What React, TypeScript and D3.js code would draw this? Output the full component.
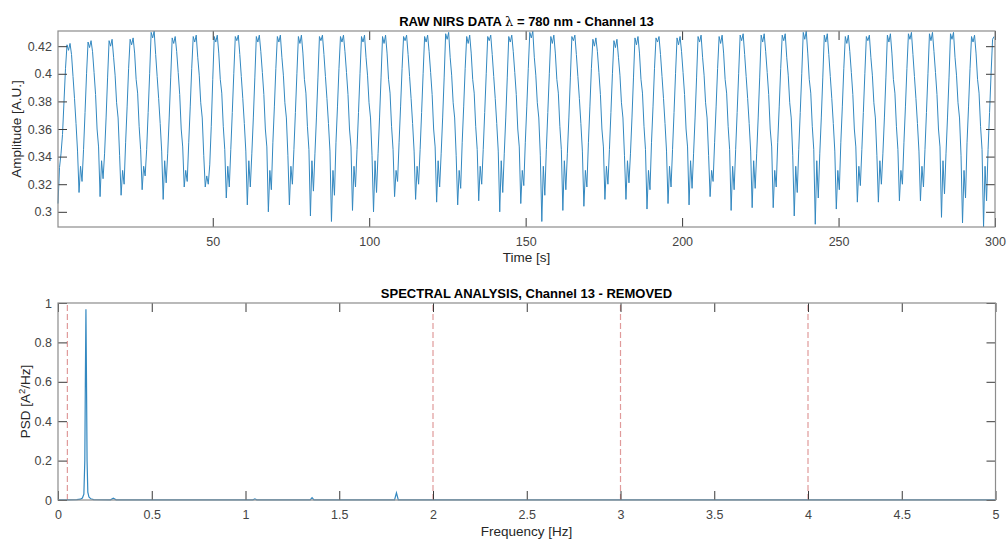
import { useEffect, useRef } from "react";
import * as d3 from "d3";

// Raw NIRS signal (780 nm, channel 13), amplitude in 1e-3 A.U.
// one sample every dt seconds, starting at t0
const t0 = 0.54;
const dt = 0.4802;
const rawHead = [306, 332, 342, 356, 380, 404];
// one row per oscillation: double top, descent, noisy trough, rise
const rawCycles = [
  [421, 417, 422, 414, 398, 382, 364, 344, 314, 333, 322, 345, 372, 400],
  [423, 419, 424, 416, 401, 385, 360, 347, 311, 337, 324, 342, 368, 397],
  [424, 420, 425, 412, 399, 379, 368, 341, 312, 330, 320, 350, 376, 404],
  [425, 421, 426, 415, 396, 386, 362, 345, 316, 333, 326, 345, 372, 400],
  [430, 426, 431, 414, 398, 382, 364, 344, 309, 337, 321, 342, 368, 397],
  [426, 422, 427, 416, 401, 385, 360, 347, 318, 330, 322, 350, 376, 404],
  [427, 423, 428, 412, 399, 379, 368, 341, 318, 326, 320, 334, 362, 396],
  [427, 423, 428, 415, 396, 386, 362, 345, 310, 333, 318, 345, 372, 400],
  [427, 424, 428, 414, 398, 382, 364, 344, 305, 337, 318, 342, 368, 397],
  [427, 423, 428, 416, 401, 385, 360, 347, 300, 330, 316, 350, 376, 404],
  [427, 423, 428, 412, 399, 379, 368, 341, 305, 333, 320, 345, 372, 400],
  [427, 422, 428, 415, 396, 386, 362, 345, 297, 337, 315, 342, 368, 397],
  [427, 424, 428, 414, 398, 382, 364, 344, 293, 330, 312, 350, 376, 404],
  [427, 423, 428, 416, 401, 385, 360, 347, 301, 333, 318, 345, 372, 400],
  [427, 423, 428, 412, 399, 379, 368, 341, 300, 337, 314, 342, 368, 397],
  [427, 422, 428, 415, 396, 386, 362, 345, 311, 330, 322, 350, 376, 404],
  [427, 424, 428, 414, 398, 382, 364, 344, 309, 333, 320, 345, 372, 400],
  [427, 423, 428, 416, 401, 385, 360, 347, 307, 337, 318, 342, 368, 397],
  [429, 425, 430, 412, 399, 379, 368, 341, 305, 330, 317, 350, 376, 404],
  [427, 422, 428, 415, 396, 386, 362, 345, 308, 333, 320, 345, 372, 400],
  [427, 424, 428, 414, 398, 382, 364, 344, 300, 337, 314, 342, 368, 397],
  [427, 423, 428, 416, 401, 385, 360, 347, 306, 330, 319, 350, 376, 404],
  [430, 426, 431, 412, 399, 379, 368, 341, 293, 333, 312, 345, 372, 400],
  [427, 422, 428, 415, 396, 386, 362, 345, 301, 337, 316, 342, 368, 397],
  [427, 424, 428, 414, 398, 382, 364, 344, 304, 330, 318, 350, 376, 404],
  [425, 420, 426, 416, 401, 385, 360, 347, 309, 333, 320, 345, 372, 400],
  [424, 419, 425, 412, 399, 379, 368, 341, 309, 337, 321, 342, 368, 397],
  [426, 421, 427, 415, 396, 386, 362, 345, 302, 330, 316, 350, 376, 404],
  [426, 423, 427, 414, 398, 382, 364, 344, 306, 333, 318, 345, 372, 400],
  [426, 421, 427, 416, 401, 385, 360, 347, 305, 337, 317, 342, 368, 397],
  [427, 423, 428, 412, 399, 379, 368, 341, 311, 330, 322, 350, 376, 404],
  [427, 422, 428, 415, 396, 386, 362, 345, 301, 333, 316, 345, 372, 400],
  [428, 424, 429, 414, 398, 382, 364, 344, 303, 337, 317, 342, 368, 397],
  [428, 423, 429, 416, 401, 385, 360, 347, 303, 330, 318, 350, 376, 404],
  [428, 424, 429, 412, 399, 379, 368, 341, 297, 333, 314, 345, 372, 400],
  [430, 425, 431, 415, 396, 386, 362, 345, 291, 337, 310, 342, 368, 397],
  [428, 423, 429, 414, 398, 382, 364, 344, 302, 330, 316, 350, 376, 404],
  [427, 422, 428, 416, 401, 385, 360, 347, 307, 333, 319, 345, 372, 400],
  [427, 424, 428, 412, 399, 379, 368, 341, 307, 337, 320, 342, 368, 397],
  [428, 423, 429, 415, 396, 386, 362, 345, 308, 330, 320, 350, 376, 404],
  [429, 425, 430, 414, 398, 382, 364, 344, 308, 333, 318, 345, 372, 400],
  [429, 424, 430, 416, 401, 385, 360, 347, 296, 337, 313, 342, 368, 397],
  [429, 425, 430, 412, 399, 379, 368, 341, 292, 330, 310, 350, 376, 404],
  [427, 423, 428, 415, 396, 386, 362, 345, 289, 333, 308, 345, 372, 400],
];
const rawTail = [425, 427];

const timeTicks = [50, 100, 150, 200, 250, 300];
const ampTicks = [0.3, 0.32, 0.34, 0.36, 0.38, 0.4, 0.42];

// Power spectral density
const psdFreq = [0, 0.05, 0.1, 0.12, 0.13, 0.138, 0.143, 0.146, 0.149, 0.152, 0.155, 0.159, 0.165, 0.175, 0.19, 0.28, 0.295, 0.31, 0.6, 1.04, 1.05, 1.06, 1.345, 1.355, 1.365, 1.795, 1.805, 1.815, 3, 5];
const psdValue = [0.001, 0.001, 0.002, 0.004, 0.01, 0.03, 0.2, 0.62, 0.968, 0.6, 0.2, 0.04, 0.015, 0.006, 0.002, 0.001, 0.009, 0.001, 0.001, 0.001, 0.006, 0.001, 0.001, 0.012, 0.001, 0.001, 0.036, 0.001, 0.001, 0.001];
const bandLimits = [0.05, 2, 3, 4];

const freqTicks = [0, 0.5, 1, 1.5, 2, 2.5, 3, 3.5, 4, 4.5, 5];
const psdTicks = [0, 0.2, 0.4, 0.6, 0.8, 1];

const font = "'Liberation Sans', Arial, Helvetica, sans-serif";

export default function App() {
  const ref = useRef<SVGSVGElement>(null);

  useEffect(() => {
    const width = 1007;
    const height = 540;

    const svg = d3.select(ref.current);
    svg.selectAll("*").remove();
    svg.attr("width", width).attr("height", height).attr("viewBox", [0, 0, width, height]);
    svg.append("rect").attr("width", width).attr("height", height).attr("fill", "white");

    const raw = [...rawHead, ...rawCycles.flat(), ...rawTail].map((v, i) => ({ t: t0 + i * dt, v: v / 1000 }));
    const psd = psdFreq.map((f, i) => ({ f, p: psdValue[i] }));

    function frame(x, y, xTicks, yTicks) {
      const [xa, xb] = x.range();
      const [ya, yb] = y.range();
      const g = svg.append("g");
      g.append("g").attr("transform", `translate(0,${ya})`)
        .call(d3.axisBottom(x).tickValues(xTicks).tickSize(-9).tickPadding(10).tickFormat(d => String(d)));
      g.append("g").attr("transform", `translate(0,${yb})`)
        .call(d3.axisTop(x).tickValues(xTicks).tickSize(-9).tickFormat(() => ""));
      g.append("g").attr("transform", `translate(${xa},0)`)
        .call(d3.axisLeft(y).tickValues(yTicks).tickSize(-9).tickPadding(6).tickFormat(d => String(d)));
      g.append("g").attr("transform", `translate(${xb},0)`)
        .call(d3.axisRight(y).tickValues(yTicks).tickSize(-9).tickFormat(() => ""));
      g.selectAll(".domain").remove();
      g.selectAll(".tick line").attr("stroke", "#3a3a3a");
      g.selectAll(".tick text")
        .attr("fill", "#444")
        .attr("font-size", 12.5)
        .attr("font-family", font);
      g.append("rect")
        .attr("x", xa).attr("y", yb)
        .attr("width", xb - xa).attr("height", ya - yb)
        .attr("fill", "none")
        .attr("stroke", "#8c8c8c")
        .attr("stroke-width", 1.2);
    }

    function label(text, x, y, opts: { bold?: boolean; rotate?: boolean; size?: number } = {}) {
      return svg.append("text")
        .attr("transform", `translate(${x},${y})${opts.rotate ? " rotate(-90)" : ""}`)
        .attr("text-anchor", "middle")
        .attr("font-family", font)
        .attr("font-size", opts.size ?? 13.5)
        .attr("font-weight", opts.bold ? "bold" : null)
        .attr("fill", opts.bold ? "#000" : "#262626")
        .text(text);
    }

    // ---- top panel: raw signal
    const x1 = d3.scaleLinear([t0, 300], [58, 995]);
    const y1 = d3.scaleLinear(d3.extent(raw, d => d.v) as [number, number], [227, 31]);

    svg.append("path")
      .attr("fill", "none")
      .attr("stroke", "#3388c0")
      .attr("stroke-width", 1)
      .attr("stroke-linejoin", "round")
      .attr("d", d3.line<{ t: number; v: number }>().x(d => x1(d.t)).y(d => y1(d.v))(raw));

    frame(x1, y1, timeTicks, ampTicks);

    const t1 = label("RAW NIRS DATA ", 526.5, 26, { bold: true, size: 13 });
    t1.append("tspan")
      .attr("font-family", "'DejaVu Serif', 'Liberation Serif', serif")
      .attr("font-weight", "normal")
      .text("\u03bb");
    t1.append("tspan").text(" = 780 nm - Channel 13");
    label("Time [s]", 526.5, 262);
    label("Amplitude [A.U.]", 20.5, 129, { rotate: true });

    // ---- bottom panel: spectrum
    const x2 = d3.scaleLinear([0, 5], [58, 995.5]);
    const y2 = d3.scaleLinear([0, 1], [500, 303]);

    svg.append("g")
      .selectAll("line")
      .data(bandLimits)
      .join("line")
      .attr("x1", d => x2(d)).attr("x2", d => x2(d))
      .attr("y1", y2(0)).attr("y2", y2(1))
      .attr("stroke", "#e09a9a")
      .attr("stroke-width", 1.2)
      .attr("stroke-dasharray", "6,3");

    svg.append("path")
      .attr("fill", "none")
      .attr("stroke", "#3388c0")
      .attr("stroke-width", 1.2)
      .attr("d", d3.line<{ f: number; p: number }>().x(d => x2(d.f)).y(d => y2(d.p))(psd));

    frame(x2, y2, freqTicks, psdTicks);

    label("SPECTRAL ANALYSIS, Channel 13 - REMOVED", 526.5, 298, { bold: true, size: 13 });
    label("Frequency [Hz]", 526.5, 536);
    const pl = label("PSD [A", 29.5, 401.5, { rotate: true });
    pl.append("tspan").attr("font-size", 9.5).attr("dy", -5).text("2");
    pl.append("tspan").attr("dy", 5).text("/Hz]");
  }, []);

  return <svg ref={ref} style={{ position: "absolute", left: 0, top: 0, display: "block" }}></svg>;
}
